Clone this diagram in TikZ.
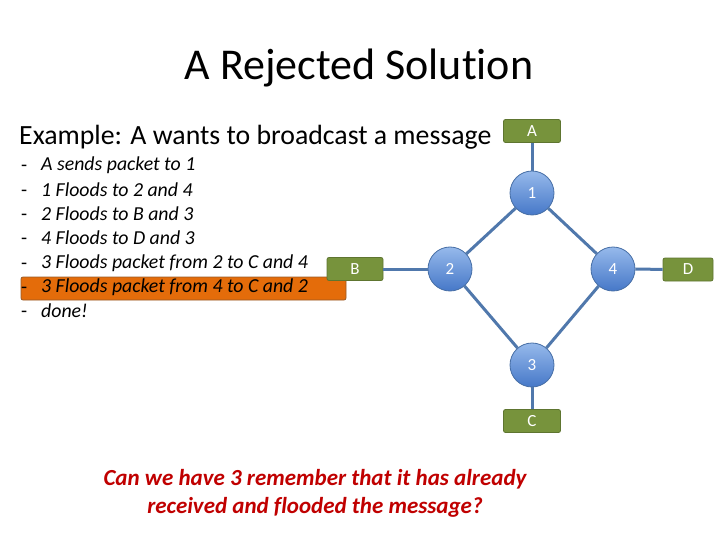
\documentclass[tikz,border=0pt]{standalone}
\usepackage{fontspec}
\setmainfont{Carlito}[Ligatures=NoCommon]
\definecolor{grn}{RGB}{119,147,60}
\definecolor{grnb}{RGB}{94,117,48}
\definecolor{lnk}{RGB}{80,120,172}
\definecolor{cb}{RGB}{70,110,165}
\definecolor{ctop}{RGB}{150,185,235}
\definecolor{cbot}{RGB}{70,120,200}
\definecolor{orng}{RGB}{228,108,10}
\definecolor{orngb}{RGB}{150,90,40}
\definecolor{rd}{RGB}{192,0,0}
\begin{document}
\begin{tikzpicture}[x=1pt,y=-1pt,
  box/.style={draw=grnb,fill=grn,rounded corners=2pt,line width=0.8pt,text=white,font=\fontsize{17}{17}\selectfont,inner sep=0pt,minimum height=23pt},
  rt/.style={circle,draw=cb,line width=0.8pt,top color=ctop,bottom color=cbot,text=white,minimum size=44pt,inner sep=0pt,font=\fontsize{17}{17}\selectfont},
  lk/.style={draw=lnk,line width=3pt},
  item/.style={anchor=west,font=\fontsize{19.8}{19.8}\selectfont\itshape,inner sep=0pt},
  dsh/.style={anchor=west,font=\fontsize{19.8}{19.8}\selectfont,inner sep=0pt}]
\useasboundingbox (0,0) rectangle (720,540);
\node[font=\fontsize{44}{44}\selectfont] (title) at (359,68) {A Rejected Solution};
\node[anchor=west,inner sep=0pt,font=\fontsize{27.8}{27.8}\selectfont] (ex) at (19,137) {Example: A wants to broadcast a message};
% highlight
\node[draw=orngb,fill=orng,rounded corners=2pt,line width=0.8pt,minimum width=325pt,minimum height=23pt,inner sep=0pt] (hl) at (183.5,288.5) {};
\foreach \y/\t/\n in {164/A sends packet to 1/i1,189/1 Floods to 2 and 4/i2,213/2 Floods to B and 3/i3,237/4 Floods to D and 3/i4,262/3 Floods packet from 2 to C and 4/i5,286/3 Floods packet from 4 to C and 2/i6,310/done!/i7}{
  \node[dsh] (d\n) at (21,\y+4) {-};
  \node[item] (\n) at (41,\y+1) {\t};
}
% network
\node[box,minimum width=57pt] (A) at (532,131) {A};
\node[box,minimum width=56pt] (B) at (355,269) {B};
\node[box,minimum width=50pt] (D) at (688,269.5) {D};
\node[box,minimum width=57pt] (C) at (532,421) {C};
\node[rt] (n1) at (532,193) {1};
\node[rt] (n2) at (450,269) {2};
\node[rt] (n4) at (613,269) {4};
\node[rt] (n3) at (532,365) {3};
\draw[lk] (A) -- (n1);
\draw[lk] (n1) -- (n2);
\draw[lk] (n1) -- (n4);
\draw[lk] (n2) -- (n3);
\draw[lk] (n4) -- (n3);
\draw[lk] (B) -- (n2);
\draw[lk] (n4) -- (D);
\draw[lk] (n3) -- (C);
\node[text=rd,font=\fontsize{23}{28}\selectfont\bfseries\itshape,align=center] (q) at (315,493) {Can we have 3 remember that it has already\\received and flooded the message?};
\end{tikzpicture}
\end{document}
